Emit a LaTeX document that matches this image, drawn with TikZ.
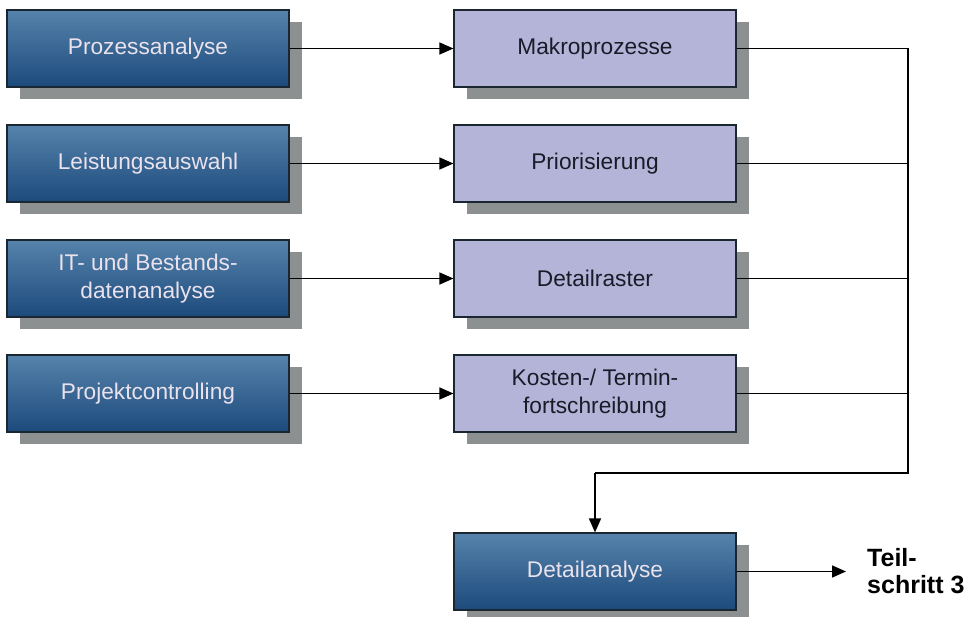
\documentclass[tikz,border=0pt]{standalone}
\usepackage{fontspec}
\setmainfont{Liberation Sans}
\usetikzlibrary{arrows.meta,shadows}
\definecolor{darktop}{HTML}{5683AB}
\definecolor{darkbot}{HTML}{1C4A7C}
\definecolor{lightbox}{HTML}{B4B4D8}
\definecolor{shadowgray}{HTML}{8C9090}
\definecolor{borderc}{HTML}{1A2630}
\definecolor{lighttext}{HTML}{EAE2EC}
\definecolor{darktext}{HTML}{1A1A28}
\begin{document}
\begin{tikzpicture}[x=1pt,y=-1pt,
  base/.style={draw=borderc, line width=1.2pt, minimum width=282pt, minimum height=77pt,
    inner sep=0pt, align=center, font=\fontsize{22.7}{28}\selectfont,
    drop shadow={shadow xshift=13pt, shadow yshift=-12pt, fill=shadowgray, opacity=1}},
  darkbox/.style={base, top color=darktop, bottom color=darkbot, text=lighttext},
  lightbox/.style={base, fill=lightbox, text=darktext},
  conn/.style={line width=1.6pt, draw=black},
  arr/.style={conn, -{Triangle[length=14pt,width=12pt]}}]
\useasboundingbox (0,0) rectangle (964,616);
\node[darkbox] (l1) at (148,48.5) {Prozessanalyse};
\node[darkbox] (l2) at (148,163.5) {Leistungsauswahl};
\node[darkbox] (l3) at (148,278.5) {IT- und Bestands-\\datenanalyse};
\node[darkbox] (l4) at (148,393.5) {Projektcontrolling};
\node[lightbox] (r1) at (595,48.5) {Makroprozesse};
\node[lightbox] (r2) at (595,163.5) {Priorisierung};
\node[lightbox] (r3) at (595,278.5) {Detailraster};
\node[lightbox] (r4) at (595,393.5) {Kosten-/ Termin-\\fortschreibung};
\node[darkbox] (d) at (595,571.5) {Detailanalyse};
\coordinate (c1) at (908,48.5);
\coordinate (c2) at (908,163.5);
\coordinate (c3) at (908,278.5);
\coordinate (c4) at (908,393.5);
\coordinate (cb) at (908,473);
\coordinate (cl) at (595,473);
\coordinate (te) at (846,571.5);
\node[anchor=west, align=left, inner sep=0pt, font=\fontsize{25}{27}\selectfont\bfseries, text=black] (t) at (867,571) {Teil-\\schritt 3};
\foreach \i in {1,2,3,4} \draw[arr] (l\i.east) -- (r\i.west);
\draw[conn] (r1.east) -- (c1) -- (cb) -- (cl);
\draw[conn] (r2.east) -- (c2);
\draw[conn] (r3.east) -- (c3);
\draw[conn] (r4.east) -- (c4);
\draw[arr] (cl) -- (d.north);
\draw[arr] (d.east) -- (te);
\end{tikzpicture}
\end{document}
